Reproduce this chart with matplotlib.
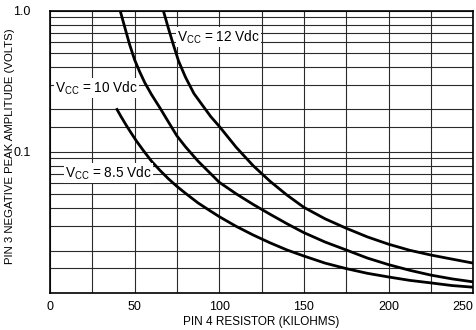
import matplotlib
matplotlib.use('Agg')
import matplotlib.pyplot as plt
from matplotlib.ticker import FixedLocator, NullLocator, FixedFormatter

plt.rcParams['font.family'] = ['Liberation Sans Narrow', 'Liberation Sans', 'DejaVu Sans']
plt.rcParams['mathtext.default'] = 'regular'

# ── data (x: kilohms, y: volts) ──
r_12 = [67, 70, 73, 76, 80, 85, 90, 95, 100, 110, 120, 130, 140, 150,
        162.5, 175, 187.5, 200, 212.5, 225, 237.5, 250]
v_12 = [1.0, 0.75, 0.57, 0.44, 0.34, 0.26, 0.215, 0.178, 0.152, 0.108, 0.08, 0.062, 0.0495, 0.0405,
        0.0336, 0.0288, 0.025, 0.0222, 0.0201, 0.0186, 0.0174, 0.0163]

r_10 = [41.5, 44, 47, 50, 53, 56, 60, 65, 70, 75, 80, 87.5, 95, 100, 110, 120, 130, 140, 150,
        162.5, 175, 187.5, 200, 212.5, 225, 237.5, 250]
v_10 = [1.0, 0.78, 0.58, 0.45, 0.37, 0.31, 0.255, 0.205, 0.163, 0.13, 0.109, 0.086, 0.07, 0.061,
        0.0505, 0.0425, 0.0362, 0.031, 0.0268, 0.023, 0.0202, 0.0177, 0.0159, 0.0145, 0.0134,
        0.0126, 0.012]

r_85 = [39.6, 42, 45, 48, 51, 55, 60, 65, 70, 75, 80, 87.5, 95, 100, 110, 120, 130, 140, 150,
        162.5, 175, 187.5, 200, 212.5, 225, 237.5, 250]
v_85 = [0.2, 0.178, 0.155, 0.136, 0.12, 0.103, 0.086, 0.074, 0.0645, 0.057, 0.051, 0.0435, 0.038,
        0.0348, 0.0297, 0.0258, 0.0227, 0.0202, 0.0183, 0.0163, 0.0149, 0.0138, 0.013, 0.0123,
        0.0118, 0.0113, 0.011]

x_ticks = [0, 50, 100, 150, 200, 250]
y_ticks = [0.1, 1.0]
y_tick_labels = ['0.1', '1.0']
x_grid = [25 * i for i in range(11)]
y_grid = [m * d for d in (0.01, 0.1) for m in (1, 1.5, 2, 3, 4, 5, 6, 7, 8, 9)] + [1.0]

fig = plt.figure(figsize=(4.76, 3.30), dpi=100)
ax = fig.add_axes([0.105, 0.112, 0.889, 0.855])
ax.set_yscale('log')
ax.set_xlim(0, 250)
ax.set_ylim(0.01, 1.0)

for xv in x_grid:
    ax.axvline(xv, color='#2a2a2a', lw=0.8, zorder=1)
for yv in y_grid:
    ax.axhline(yv, color='#2a2a2a', lw=0.8, zorder=1)

for r, v in [(r_12, v_12), (r_10, v_10), (r_85, v_85)]:
    ax.plot(r, v, color='black', lw=2.0, zorder=3, solid_joinstyle='round')

box = dict(facecolor='white', edgecolor='none', pad=1.0)
ax.text(75, 0.65, r'V$_{CC}$ = 12 Vdc', fontsize=9.8, va='center', ha='left', bbox=box, zorder=4)
ax.text(3, 0.284, r'V$_{CC}$ = 10 Vdc', fontsize=9.8, va='center', ha='left', bbox=box, zorder=4)
ax.text(9, 0.071, r'V$_{CC}$ = 8.5 Vdc', fontsize=9.8, va='center', ha='left', bbox=box, zorder=4)

ax.xaxis.set_major_locator(FixedLocator(x_ticks))
ax.yaxis.set_major_locator(FixedLocator(y_ticks))
ax.yaxis.set_major_formatter(FixedFormatter(y_tick_labels))
ax.yaxis.set_minor_locator(NullLocator())
ax.tick_params(axis='x', length=0, labelsize=9, pad=6)
ax.tick_params(axis='y', length=0, labelsize=9, pad=14)
ax.get_xticklabels()[-1].set_horizontalalignment('right')

for s in ax.spines.values():
    s.set_linewidth(1.2)
    s.set_color('black')

ax.set_xlabel('PIN 4 RESISTOR (KILOHMS)', fontsize=8.5, labelpad=2)
ax.set_ylabel('PIN 3 NEGATIVE PEAK AMPLITUDE (VOLTS)', fontsize=8.2)
ax.yaxis.set_label_coords(-0.083, 0.52)

fig.savefig('out.png', dpi=100)
